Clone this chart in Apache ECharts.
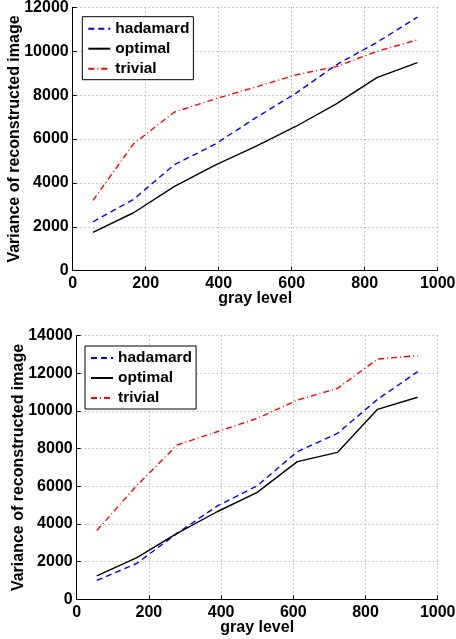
<!DOCTYPE html>
<html lang="en">
<head>
  <meta charset="UTF-8">
  <title>Variance vs gray level</title>
  <script src="https://cdn.jsdelivr.net/npm/echarts@6/dist/echarts.min.js"></script>
  <style>
    html, body {
      margin: 0;
      padding: 0;
      background: #fff;
    }
    #container {
      width: 456px;
      height: 639px;
    }
  </style>
</head>
<body>
  <div id="container"></div>
  <script>
    // gray level bin centres (same for both panels)
    const grayLevels = [55.6, 166.7, 277.8, 388.9, 500, 611.1, 722.2, 833.3, 944.4];

    // top panel
    const topHadamard = [2230, 3250, 4820, 5750, 6950, 8080, 9380, 10400, 11550];
    const topOptimal = [1750, 2640, 3830, 4800, 5650, 6570, 7600, 8800, 9480];
    const topTrivial = [3200, 5780, 7220, 7820, 8360, 8920, 9300, 9990, 10520];

    // bottom panel
    const botHadamard = [1000, 1910, 3500, 4950, 6030, 7840, 8810, 10620, 12090];
    const botOptimal = [1240, 2210, 3500, 4650, 5680, 7310, 7800, 10090, 10730];
    const botTrivial = [3650, 6050, 8190, 8900, 9610, 10580, 11200, 12760, 12940];

    const seriesNames = ['hadamard', 'optimal', 'trivial'];
    const xTicks = [0, 1000, 200];
    const yTicksTop = [0, 12000, 2000];
    const yTicksBot = [0, 14000, 2000];

    const font = 'Liberation Sans, Arial, Helvetica, sans-serif';

    const styles = {
      hadamard: {color: '#0000ff', type: [6, 4]},
      optimal: {color: '#000000', type: 'solid'},
      trivial: {color: '#ff0000', type: [6, 3, 1, 3]},
    };

    function pairs(ys) {
      return grayLevels.map((x, i) => [x, ys[i]]);
    }

    const plain = (v) => String(v);

    function xAxis(gridIndex) {
      return {
        type: 'value',
        gridIndex,
        min: xTicks[0],
        max: xTicks[1],
        interval: xTicks[2],
        name: 'gray level',
        nameLocation: 'middle',
        nameGap: 20,
        nameMoveOverlap: false,
        nameTextStyle: {fontFamily: font, fontWeight: 'bold', fontSize: 16, color: '#000'},
        axisLine: {onZero: false, lineStyle: {color: '#000', width: 1}},
        axisTick: {inside: true, length: 4, lineStyle: {color: '#000'}},
        axisLabel: {fontFamily: font, fontWeight: 'bold', fontSize: 16, color: '#000', margin: 5, formatter: plain},
        splitLine: {show: true, lineStyle: {color: '#999', type: [1, 3], width: 1}},
      };
    }

    function yAxis(gridIndex, ticks) {
      return {
        type: 'value',
        gridIndex,
        min: ticks[0],
        max: ticks[1],
        interval: ticks[2],
        name: 'Variance of reconstructed image',
        nameLocation: 'middle',
        nameGap: 50,
        nameMoveOverlap: false,
        nameTextStyle: {fontFamily: font, fontWeight: 'bold', fontSize: 16, color: '#000'},
        axisLine: {show: true, onZero: false, lineStyle: {color: '#000', width: 1}},
        axisTick: {show: true, inside: true, length: 4, lineStyle: {color: '#000'}},
        axisLabel: {fontFamily: font, fontWeight: 'bold', fontSize: 16, color: '#000', margin: 4, formatter: plain},
        splitLine: {show: true, lineStyle: {color: '#999', type: [1, 3], width: 1}},
      };
    }

    function legend(left, top) {
      return {
        data: seriesNames,
        orient: 'vertical',
        left,
        top,
        itemWidth: 22,
        itemHeight: 12,
        itemGap: 4,
        padding: [4, 4, 3, 5],
        backgroundColor: '#fff',
        borderColor: '#000',
        borderWidth: 1,
        borderRadius: 0,
        selectedMode: false,
        // line series always add a marker to the legend icon; hide it
        itemStyle: {opacity: 0},
        textStyle: {fontFamily: font, fontWeight: 'bold', fontSize: 15.5, color: '#000'},
      };
    }

    function line(name, values, axisIndex) {
      return {
        name,
        type: 'line',
        xAxisIndex: axisIndex,
        yAxisIndex: axisIndex,
        data: pairs(values),
        symbol: 'none',
        animation: false,
        color: styles[name].color,
        lineStyle: {color: styles[name].color, type: styles[name].type, width: 1.4},
      };
    }

    const chart = echarts.init(document.getElementById('container'), null, {renderer: 'canvas'});

    chart.setOption({
      animation: false,
      backgroundColor: '#fff',
      grid: [
        {left: 72.7, top: 7.3, width: 365, height: 263.4, outerBoundsMode: 'none'},
        {left: 76.7, top: 335.7, width: 361, height: 263.6, outerBoundsMode: 'none'},
      ],
      xAxis: [xAxis(0), xAxis(1)],
      yAxis: [yAxis(0, yTicksTop), yAxis(1, yTicksBot)],
      legend: [legend(82.3, 16.7), legend(85, 346)],
      series: [
        line('hadamard', topHadamard, 0),
        line('optimal', topOptimal, 0),
        line('trivial', topTrivial, 0),
        line('hadamard', botHadamard, 1),
        line('optimal', botOptimal, 1),
        line('trivial', botTrivial, 1),
      ],
    });
  </script>
</body>
</html>
